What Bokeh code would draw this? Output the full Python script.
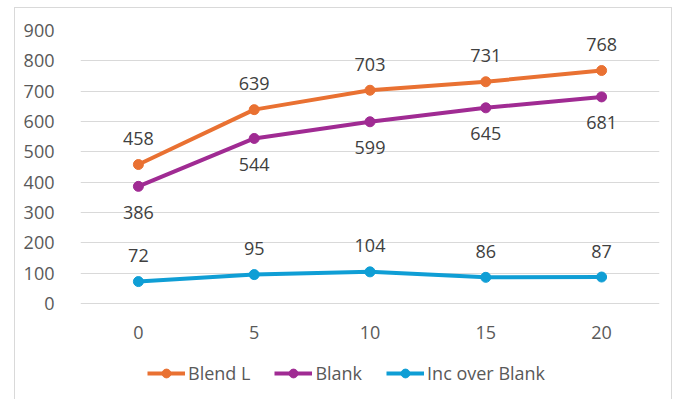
from bokeh.plotting import figure
from bokeh.models import ColumnDataSource, LabelSet, Legend, LegendItem
from bokeh.core.properties import value
from bokeh.embed import file_html
from bokeh.resources import INLINE

categories = ["0", "5", "10", "15", "20"]
blend_l = [458, 639, 703, 731, 768]
blank = [386, 544, 599, 645, 681]
inc_over_blank = [72, 95, 104, 86, 87]
series_names = ["Blend L", "Blank", "Inc over Blank"]
colors = ["#E97132", "#A02B93", "#0F9ED5"]
label_offsets = [26, -26, 26]
y_ticks = [0, 100, 200, 300, 400, 500, 600, 700, 800, 900]

FONT = "Open Sans"

# frame extends below zero to hold the category labels and legend
p = figure(width=658, height=392, x_range=categories, y_range=(-307, 900),
           output_backend="svg", toolbar_location=None,
           min_border_left=65, min_border_right=14, min_border_top=22, min_border_bottom=4)
p.margin = (7, 0, 0, 14)
p.styles = {"border-left": "1px solid #D9D9D9", "border-top": "1px solid #D9D9D9",
            "border-right": "1px solid #D9D9D9"}
p.outline_line_color = None
p.background_fill_color = "white"
p.border_fill_color = "white"

p.xgrid.grid_line_color = None
p.ygrid.grid_line_color = "#D9D9D9"
p.ygrid.grid_line_width = 1
p.yaxis.ticker = y_ticks
p.xaxis.visible = False

ax = p.yaxis[0]
ax.axis_line_color = None
ax.major_tick_line_color = None
ax.minor_tick_line_color = None
ax.major_label_text_font = FONT
ax.major_label_text_font_size = "18px"
ax.major_label_text_color = "#595959"
ax.major_label_standoff = 20

# category labels under the zero line
cat_src = ColumnDataSource(dict(x=categories, y=[0] * len(categories), t=categories))
p.add_layout(LabelSet(x="x", y="y", text="t", source=cat_src, y_offset=-29,
                      text_align="center", text_baseline="middle",
                      text_font=value(FONT), text_font_size=value("18px"),
                      text_color="#595959"))

items = []
for name, vals, col, off in zip(series_names, [blend_l, blank, inc_over_blank], colors, label_offsets):
    src = ColumnDataSource(dict(x=categories, y=vals, t=[str(v) for v in vals]))
    ln = p.line("x", "y", source=src, line_color=col, line_width=4)
    sc = p.scatter("x", "y", source=src, size=10, fill_color=col, line_color=col)
    lbl = LabelSet(x="x", y="y", text="t", source=src, y_offset=off,
                   text_align="center", text_baseline="middle",
                   text_font=value(FONT), text_font_size=value("18px"),
                   text_color="#404040")
    p.add_layout(lbl)
    items.append(LegendItem(label=name, renderers=[ln, sc]))

legend = Legend(items=items, orientation="horizontal", location=(67, 11),
                glyph_width=38, glyph_height=22, label_standoff=3, spacing=24,
                padding=0, margin=0, border_line_color=None, background_fill_alpha=0,
                label_text_font=FONT, label_text_font_size="18px", label_text_color="#595959")
p.add_layout(legend, "center")

open("out.html", "w").write(file_html(p, INLINE))
